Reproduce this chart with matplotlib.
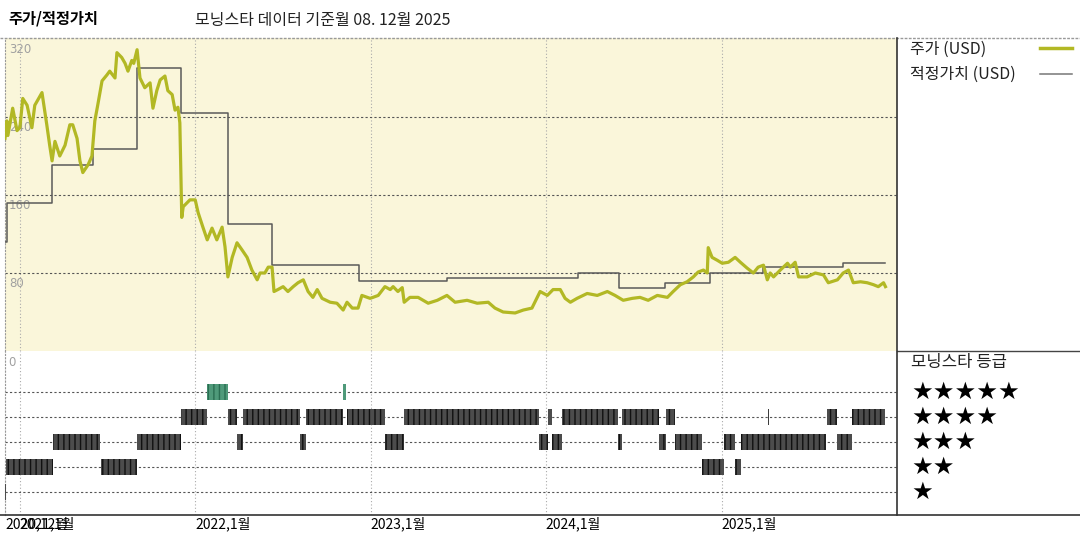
import matplotlib
matplotlib.use("Agg")
import matplotlib.pyplot as plt
import matplotlib.dates as mdates
import pandas as pd
from matplotlib.lines import Line2D

plt.rcParams['font.family'] = ['Noto Sans CJK KR', 'DejaVu Sans']
plt.rcParams['hatch.linewidth'] = 1.0

# 주가 (USD) - 그림에서 읽은 값
price_dates = [
    "2020-12-01", "2020-12-05", "2020-12-07", "2020-12-17", "2020-12-26", "2021-01-01", "2021-01-07",
    "2021-01-16", "2021-01-26", "2021-02-01", "2021-02-16", "2021-02-26", "2021-03-04", "2021-03-09",
    "2021-03-15", "2021-03-25", "2021-04-05", "2021-04-15", "2021-04-21", "2021-04-30", "2021-05-06",
    "2021-05-12", "2021-05-23", "2021-05-31", "2021-06-06", "2021-06-12", "2021-06-21", "2021-07-01",
    "2021-07-07", "2021-07-18", "2021-07-22", "2021-08-01", "2021-08-08", "2021-08-14", "2021-08-22",
    "2021-08-26", "2021-09-02", "2021-09-08", "2021-09-18", "2021-09-29", "2021-10-05", "2021-10-13",
    "2021-10-20", "2021-10-30", "2021-11-05", "2021-11-14", "2021-11-20", "2021-11-26", "2021-11-30",
    "2021-12-04", "2021-12-07", "2021-12-15", "2021-12-21", "2022-01-01", "2022-01-07", "2022-01-17",
    "2022-01-26", "2022-02-05", "2022-02-15", "2022-02-26", "2022-03-04", "2022-03-10", "2022-03-19",
    "2022-03-29", "2022-04-08", "2022-04-19", "2022-04-29", "2022-05-10", "2022-05-16", "2022-05-26",
    "2022-06-02", "2022-06-10", "2022-06-14", "2022-06-22", "2022-07-03", "2022-07-13", "2022-07-24",
    "2022-08-03", "2022-08-14", "2022-08-24", "2022-09-03", "2022-09-12", "2022-09-22", "2022-10-09",
    "2022-10-23", "2022-11-05", "2022-11-13", "2022-11-24", "2022-12-06", "2022-12-14", "2022-12-31",
    "2023-01-06", "2023-01-17", "2023-01-31", "2023-02-11", "2023-02-17", "2023-02-27", "2023-03-08",
    "2023-03-12", "2023-03-24", "2023-04-10", "2023-05-01", "2023-05-20", "2023-06-09", "2023-06-26",
    "2023-07-21", "2023-08-11", "2023-09-03", "2023-09-17", "2023-10-04", "2023-10-29", "2023-11-15",
    "2023-12-03", "2023-12-14", "2023-12-20", "2024-01-04", "2024-01-16", "2024-01-31", "2024-02-10",
    "2024-02-21", "2024-03-06", "2024-03-27", "2024-04-17", "2024-05-08", "2024-05-24", "2024-06-10",
    "2024-06-29", "2024-07-15", "2024-08-01", "2024-08-20", "2024-09-10", "2024-09-22", "2024-10-07",
    "2024-10-21", "2024-11-03", "2024-11-13", "2024-11-24", "2024-12-02", "2024-12-04", "2024-12-12",
    "2024-12-23", "2025-01-02", "2025-01-15", "2025-01-29", "2025-02-09", "2025-02-23", "2025-03-08",
    "2025-03-18", "2025-03-29", "2025-04-06", "2025-04-12", "2025-04-19", "2025-05-03", "2025-05-18",
    "2025-05-24", "2025-06-03", "2025-06-10", "2025-06-28", "2025-07-15", "2025-08-01", "2025-08-11",
    "2025-08-30", "2025-09-11", "2025-09-22", "2025-10-02", "2025-10-17", "2025-10-31", "2025-11-13",
    "2025-11-23", "2025-12-04", "2025-12-08",
]
price_values = [
    218, 236, 221, 249, 226, 229, 259,
    252, 229, 252, 265, 232, 211, 195,
    215, 200, 211, 232, 232, 218, 195,
    183, 191, 200, 236, 252, 277, 283,
    287, 280, 306, 301, 295, 287, 298,
    295, 309, 280, 270, 275, 249, 267,
    278, 282, 267, 263, 247, 250, 234,
    137, 148, 152, 155, 155, 142, 127,
    114, 126, 114, 127, 107, 76, 96,
    111, 104, 96, 83, 73, 80, 80,
    86, 86, 61, 63, 66, 61, 66,
    70, 73, 61, 55, 63, 54, 50,
    49, 42, 50, 44, 44, 57, 54,
    55, 57, 66, 63, 66, 61, 65,
    50, 55, 55, 49, 52, 57, 50,
    52, 49, 50, 44, 40, 39, 42,
    44, 55, 61, 57, 63, 63, 54,
    50, 54, 59, 57, 61, 57, 52,
    54, 55, 52, 57, 55, 61, 68,
    71, 76, 81, 83, 80, 106, 96,
    93, 90, 91, 96, 91, 85, 80,
    86, 88, 73, 80, 76, 83, 90,
    86, 91, 76, 76, 80, 78, 70,
    73, 80, 83, 70, 71, 70, 68,
    66, 70, 66,
]

# 적정가치 (USD) - 계단형
fair_dates = ["2020-12-01", "2020-12-05", "2021-03-09", "2021-06-02", "2021-09-02", "2021-12-02",
              "2022-03-10", "2022-06-10", "2022-12-08", "2023-06-09", "2024-03-08", "2024-06-01",
              "2024-09-06", "2024-12-08", "2025-03-29", "2025-09-11", "2025-12-08"]
fair_values = [112, 152, 191, 207, 290, 244, 130, 88, 72, 75, 80, 65, 70, 80, 86, 90, 90]

# 모닝스타 등급 구간
rating_start = ["2020-12-01", "2020-12-04", "2021-03-11", "2021-06-19", "2021-09-02", "2021-12-02",
                "2022-01-26", "2022-03-10", "2022-03-29", "2022-04-11", "2022-08-07", "2022-08-20",
                "2022-11-05", "2022-11-13", "2023-01-31", "2023-03-12", "2023-12-18", "2024-01-06",
                "2024-01-14", "2024-02-04", "2024-05-31", "2024-06-08", "2024-08-24", "2024-09-08",
                "2024-09-26", "2024-11-22", "2025-01-06", "2025-01-29", "2025-02-11", "2025-04-08",
                "2025-08-09", "2025-08-30", "2025-09-30"]
rating_end = ["2020-12-04", "2021-03-11", "2021-06-17", "2021-09-02", "2021-12-02", "2022-01-26",
              "2022-03-10", "2022-03-29", "2022-04-11", "2022-08-07", "2022-08-20", "2022-11-05",
              "2022-11-11", "2023-01-31", "2023-03-12", "2023-12-18", "2024-01-06", "2024-01-14",
              "2024-02-04", "2024-05-31", "2024-06-08", "2024-08-24", "2024-09-08", "2024-09-26",
              "2024-11-22", "2025-01-06", "2025-01-29", "2025-02-11", "2025-08-07", "2025-04-10",
              "2025-08-30", "2025-09-30", "2025-12-08"]
rating_stars = [1, 2, 3, 2, 3, 4,
                5, 4, 3, 4, 3, 4,
                5, 4, 3, 4, 3, 4,
                3, 4, 3, 4, 3, 4,
                3, 2, 3, 2, 3, 4,
                4, 3, 4]

tick_dates = ["2020-12-01", "2021-01-01", "2022-01-01", "2023-01-01", "2024-01-01", "2025-01-01"]
tick_labels = ["2020,12월", "2021,1월", "2022,1월", "2023,1월", "2024,1월", "2025,1월"]
price_ticks = [80, 160, 240, 320]

price_x = pd.to_datetime(price_dates)
fair_x = pd.to_datetime(fair_dates)
ticks_x = pd.to_datetime(tick_dates)
xmin, xmax = pd.Timestamp("2020-12-01"), pd.Timestamp("2026-01-01")

W, H = 1080, 540
fig = plt.figure(figsize=(W / 100, H / 100), dpi=100)
ax1 = fig.add_axes([5 / W, 189 / H, 892 / W, 313 / H])
ax2 = fig.add_axes([5 / W, 25 / H, 892 / W, 164 / H])

# 위쪽: 주가 / 적정가치
ax1.set_facecolor("#faf6da")
ax1.plot(price_x, price_values, color="#b2b824", lw=2.3, zorder=4)
ax1.step(fair_x, fair_values, where="post", color="#5a5a5a", lw=1.1, zorder=3)
ax1.set_xlim(xmin, xmax)
ax1.set_ylim(0, 321)
ax1.set_yticks(price_ticks[:-1])
ax1.set_xticks(ticks_x[1:])
ax1.grid(axis="y", ls=(0, (2, 2)), color="#555555", lw=0.8)
ax1.grid(axis="x", ls=(0, (1, 2)), color="#aaaaaa", lw=0.8)
ax1.tick_params(length=0, labelbottom=False, labelleft=False)
for s in ["top", "right", "bottom"]:
    ax1.spines[s].set_visible(False)
ax1.spines["left"].set_linestyle((0, (1, 2)))
ax1.spines["left"].set_color("#999999")
for v in price_ticks:
    ax1.annotate(str(v), (0, v), xycoords=ax1.get_yaxis_transform(), xytext=(3, -3),
                 textcoords="offset points", va="top", ha="left", fontsize=8.5,
                 color="#a0a0a0", zorder=1, family="DejaVu Sans")

# 아래쪽: 모닝스타 등급
ax2.set_xlim(xmin, xmax)
ax2.set_ylim(0.08, 6.64)
for a, b, n in zip(rating_start, rating_end, rating_stars):
    x0 = mdates.date2num(pd.Timestamp(a))
    x1 = mdates.date2num(pd.Timestamp(b))
    if n == 5:
        fc, ec = "#4f9a7a", "#2a6e52"
    else:
        fc, ec = "#4c4c4c", "#111111"
    ax2.broken_barh([(x0, max(x1 - x0, 1))], (n - 0.32, 0.64), facecolor=fc,
                    edgecolor=ec, hatch="|||", lw=0, zorder=3)
ax2.set_yticks([1, 2, 3, 4, 5])
ax2.set_xticks(ticks_x)
ax2.set_xticklabels(tick_labels, ha="left", fontsize=10)
ax2.grid(axis="y", ls=(0, (2, 2)), color="#555555", lw=0.8)
ax2.grid(axis="x", ls=(0, (1, 2)), color="#aaaaaa", lw=0.8)
ax2.tick_params(length=0, labelleft=False, pad=1)
for s in ["top", "right", "bottom"]:
    ax2.spines[s].set_visible(False)
ax2.spines["left"].set_linestyle((0, (1, 2)))
ax2.spines["left"].set_color("#999999")
ax2.text(0.004, 0.97, "0", transform=ax2.transAxes, va="top", ha="left",
         fontsize=8.5, color="#a0a0a0", family="DejaVu Sans")

# 별 표시
for n in [5, 4, 3, 2, 1]:
    ax2.text(1.0165, n, "★" * n, transform=ax2.get_yaxis_transform(), va="center",
             ha="left", fontsize=17.5, family="DejaVu Sans", clip_on=False)
ax2.text(1.0155, 6.2, "모닝스타 등급", transform=ax2.get_yaxis_transform(),
         va="center", ha="left", fontsize=12, color="#222222", clip_on=False)

# 틀 선
fig.add_artist(Line2D([0, 1], [1 - 38 / H] * 2, color="#999999", lw=1, ls=(0, (2, 1))))
fig.add_artist(Line2D([0, 1], [1 - 515 / H] * 2, color="#333333", lw=1.2))
fig.add_artist(Line2D([897 / W, 1], [1 - 351 / H] * 2, color="#444444", lw=1))
fig.add_artist(Line2D([897 / W] * 2, [1 - 515 / H, 1 - 38 / H], color="#333333", lw=1.2))

# 제목
fig.text(8 / W, 1 - 18 / H, "주가/적정가치", fontsize=11, fontweight="bold", va="center")
fig.text(195 / W, 1 - 20 / H, "모닝스타 데이터 기준월 08. 12월 2025", fontsize=11.5,
         color="#222222", va="center")

# 범례
fig.text(910 / W, 1 - 49 / H, "주가 (USD)", fontsize=11.5, va="center", color="#222222")
fig.text(910 / W, 1 - 74 / H, "적정가치 (USD)", fontsize=11.5, va="center", color="#222222")
fig.add_artist(Line2D([1040 / W, 1072 / W], [1 - 48 / H] * 2, color="#b2b824", lw=2.5))
fig.add_artist(Line2D([1040 / W, 1072 / W], [1 - 74 / H] * 2, color="#777777", lw=1.1))

fig.savefig("out.png", dpi=100)
